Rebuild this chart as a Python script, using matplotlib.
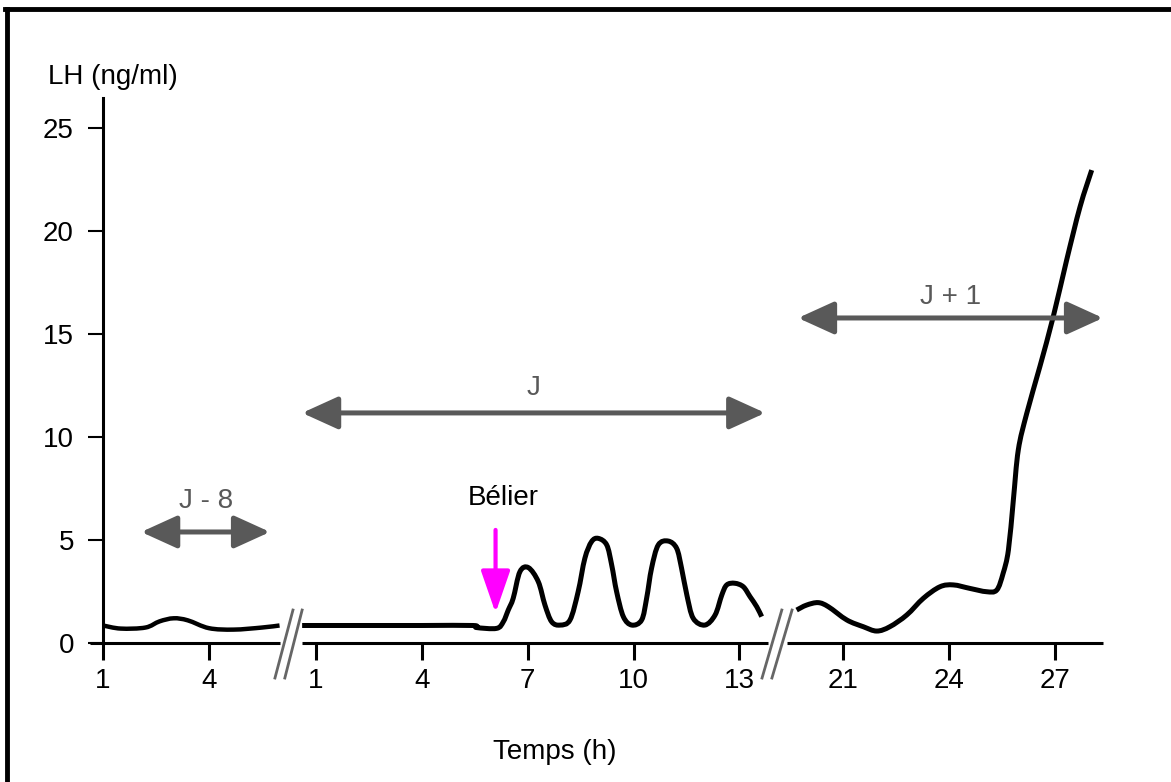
import matplotlib
matplotlib.use("Agg")
from matplotlib import pyplot as plt
from matplotlib.lines import Line2D
from matplotlib.path import Path
from matplotlib.patches import PathPatch
import numpy as np

plt.rcParams["font.family"] = ["Liberation Sans", "DejaVu Sans"]
plt.rcParams["font.size"] = 20

# LH curve (hour on each day, LH ng/ml)
h_jm8 = [1.0, 1.5, 2.2, 2.6, 3.0, 3.4, 4.0, 4.7, 5.5, 6.0]
lh_jm8 = [0.85, 0.7, 0.75, 1.05, 1.2, 1.1, 0.72, 0.65, 0.75, 0.85]

h_j = [0.61, 2.0, 4.0, 5.45, 5.55, 6.12, 6.31, 6.45, 6.59, 6.78, 7.02, 7.30, 7.49,
       7.68, 7.92, 8.20, 8.43, 8.62, 8.81, 9.00, 9.24, 9.38, 9.52, 9.71, 9.95,
       10.23, 10.37, 10.51, 10.70, 10.98, 11.22, 11.36, 11.51, 11.69, 12.02,
       12.31, 12.50, 12.64, 12.87, 13.11, 13.30, 13.49, 13.63]
lh_j = [0.85, 0.85, 0.85, 0.85, 0.75, 0.71, 1.03, 1.6, 2.17, 3.46, 3.66, 2.98, 1.84,
        1.03, 0.87, 1.12, 2.49, 4.11, 4.92, 5.08, 4.76, 3.79, 2.49, 1.28, 0.87,
        1.12, 2.17, 3.63, 4.76, 4.95, 4.6, 3.63, 2.33, 1.2, 0.87,
        1.36, 2.33, 2.82, 2.9, 2.73, 2.25, 1.76, 1.28]

h_jp1 = [19.69, 19.97, 20.30, 20.59, 21.11, 21.58, 21.96, 22.33, 22.81, 23.28, 23.75,
         24.13, 24.60, 25.07, 25.36, 25.54, 25.69, 25.83, 25.97, 26.21, 26.58,
         26.96, 27.34, 27.72, 28.05]
lh_jp1 = [1.6, 1.84, 1.96, 1.76, 1.12, 0.79, 0.58, 0.79, 1.36, 2.17, 2.73,
          2.82, 2.65, 2.49, 2.57, 3.38, 4.51, 6.94, 9.37, 11.15, 13.41,
          15.84, 18.59, 21.18, 22.96]

ticks_jm8 = [1, 4]
ticks_j = [1, 4, 7, 10, 13]
ticks_jp1 = [21, 24, 27]
yticks = [0, 5, 10, 15, 20, 25]

# layout: shift of each day along the shared axis
off_jm8, off_j, off_jp1 = 0.0, 6.03, 0.96


def smooth_path(x, y):
    # catmull-rom through the read points, drawn as bezier segments
    p = np.column_stack([x, y])
    p = np.vstack([p[0], p, p[-1]])
    verts = [p[1]]
    codes = [Path.MOVETO]
    for i in range(1, len(p) - 2):
        c1 = p[i] + (p[i + 1] - p[i - 1]) / 6
        c2 = p[i + 1] - (p[i + 2] - p[i]) / 6
        verts += [c1, c2, p[i + 1]]
        codes += [Path.CURVE4] * 3
    return Path(verts, codes)


fig = plt.figure(figsize=(11.71, 7.82), dpi=100)
ax = fig.add_axes([90 / 1171, 139 / 782, 1013 / 1171, 545 / 782])
ax.set_xlim(0.63, 29.33)
ax.set_ylim(0, 26.46)

for hh, vv, off, lw in [(h_jm8, lh_jm8, off_jm8, 3.2), (h_j, lh_j, off_j, 3.6),
                        (h_jp1, lh_jp1, off_jp1, 3.6)]:
    ax.add_patch(PathPatch(smooth_path(np.array(hh) + off, vv), fill=False,
                           edgecolor="black", lw=lw, capstyle="butt", joinstyle="round"))

# axes
for s in ["top", "right", "bottom"]:
    ax.spines[s].set_visible(False)
ax.spines["left"].set_position(("data", 1.0))
ax.spines["left"].set_bounds(0, 26.46)
ax.spines["left"].set_linewidth(2.2)

for x0, x1 in [(0.63, 6.02), (6.64, 19.84), (20.37, 29.33)]:
    ax.plot([x0, x1], [0, 0], color="black", lw=2.2, clip_on=False, solid_capstyle="butt")

# break marks
brk = "#666666"
for (xa, xb) in [(5.87, 6.38), (6.15, 6.64), (19.67, 20.23), (19.95, 20.52)]:
    ax.add_line(Line2D([xa, xb], [-1.7, 1.6], color=brk, lw=2, clip_on=False))

xt = [t + off_jm8 for t in ticks_jm8] + [t + off_j for t in ticks_j] + [t + off_jp1 for t in ticks_jp1]
xl = [str(t) for t in ticks_jm8 + ticks_j + ticks_jp1]
ax.set_xticks(xt)
ax.set_xticklabels(xl)
ax.set_yticks(yticks)
ax.set_yticklabels([str(v) for v in yticks])
ax.tick_params(axis="x", direction="out", length=12, width=2.2, pad=6, labelsize=20)
ax.tick_params(axis="y", direction="out", length=11, width=1.5, pad=10, labelsize=20)

ax.text(0.0227, 1.0385, "LH (ng/ml)", transform=ax.transAxes, ha="center", va="center", fontsize=20)
ax.text(0.459, -0.2, "Temps (h)", transform=ax.transAxes, ha="center", va="center", fontsize=20)

# period arrows
grey = "#595959"
astyle = "<|-|>,head_length=1.1,head_width=0.5"
for (x0, x1, y, lab, ly) in [(2.08, 5.73, 5.39, "J - 8", 6.9),
                             (6.64, 19.76, 11.17, "J", 12.4),
                             (20.69, 29.33, 15.78, "J + 1", 16.8)]:
    ax.annotate("", xy=(x1, y), xytext=(x0, y),
                arrowprops=dict(arrowstyle=astyle, color=grey, lw=3.6, shrinkA=0, shrinkB=0,
                                mutation_scale=20), annotation_clip=False)
    ax.text((x0 + x1) / 2, ly, lab, color=grey, ha="center", va="center", fontsize=20)

# ram introduction
ax.annotate("", xy=(12.12, 1.46), xytext=(12.12, 5.49),
            arrowprops=dict(arrowstyle="-|>,head_length=1.3,head_width=0.45", color="#ff00ff",
                            lw=3, shrinkA=0, shrinkB=0, mutation_scale=20))
ax.text(12.33, 7.04, "Bélier", color="black", ha="center", va="center", fontsize=20)

# frame around the figure
fig.add_artist(Line2D([7 / 1171, 7 / 1171], [0, 1 - 9 / 782], color="black", lw=3.5,
                      transform=fig.transFigure))
fig.add_artist(Line2D([5 / 1171, 1], [1 - 9 / 782, 1 - 9 / 782], color="black", lw=3.5,
                      transform=fig.transFigure))

fig.savefig("out.png", dpi=100)
